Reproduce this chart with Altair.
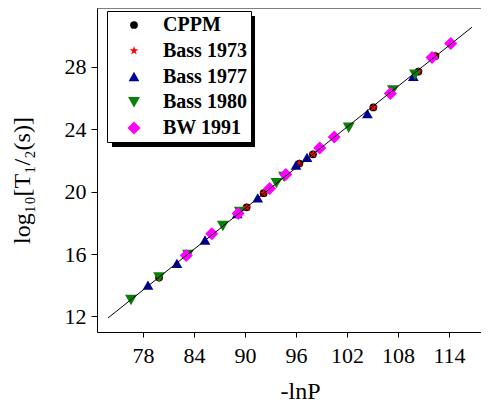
import altair as alt
import pandas as pd

STAR = ("M0,-1L0.225,-0.309L0.951,-0.309L0.363,0.118L0.588,0.809L0,0.382"
        "L-0.588,0.809L-0.363,0.118L-0.951,-0.309L-0.225,-0.309Z")

series = ["CPPM", "Bass 1973", "Bass 1977", "Bass 1980", "BW 1991"]
colors = ["#000000", "#ff0000", "#00009c", "#0a800a", "#ff00ff"]
shapes = ["circle", STAR, "triangle-up", "triangle-down", "diamond"]
sizes = [60, 170, 140, 140, 150]

cppm_x = [79.9, 90.2, 92.2, 96.4, 98.0, 105.1, 110.4, 112.4]
cppm_y = [14.5, 19.0, 19.9, 21.8, 22.4, 25.4, 27.7, 28.7]
b73_x = [79.9, 90.2, 92.2, 96.4, 98.0, 105.1, 110.4, 112.4]
b73_y = [14.5, 19.0, 19.9, 21.8, 22.4, 25.4, 27.7, 28.7]
b77_x = [78.6, 82.0, 85.3, 89.1, 91.5, 96.0, 97.3, 104.4, 109.8]
b77_y = [14.0, 15.4, 16.9, 18.6, 19.6, 21.7, 22.2, 25.0, 27.4]
b80_x = [76.6, 79.9, 83.3, 87.4, 89.4, 93.7, 94.6, 102.2, 107.4, 110.0]
b80_y = [13.05, 14.5, 15.95, 17.8, 18.7, 20.55, 20.95, 24.1, 26.5, 27.5]
bw_x = [83.1, 86.1, 89.2, 92.9, 94.8, 98.8, 100.5, 107.1, 112.0, 114.2]
bw_y = [15.9, 17.3, 18.6, 20.2, 21.1, 22.8, 23.5, 26.3, 28.6, 29.5]

fit_x = [73.9, 116.7]
fit_y = [11.9, 30.55]

x_ticks = [78, 84, 90, 96, 102, 108, 114]
y_ticks = [12, 16, 20, 24, 28]

rows = []
for name, xs, ys in zip(series, [cppm_x, b73_x, b77_x, b80_x, bw_x],
                        [cppm_y, b73_y, b77_y, b80_y, bw_y]):
    for xv, yv in zip(xs, ys):
        rows.append({"series": name, "px": xv, "py": yv, "k": len(rows)})
df = pd.DataFrame(rows)
fit = pd.DataFrame({"px": fit_x, "py": fit_y})

FONT = "Liberation Serif"
W, H = 384, 324

xscale = alt.Scale(domain=[72.6, 117.76], nice=False, zero=False)
yscale = alt.Scale(domain=[11, 31.78], nice=False, zero=False)

xaxis = alt.Axis(values=x_ticks, title="-lnP", grid=False, tickSize=5,
                 labelPadding=25, labelBaseline="alphabetic",
                 titleX=203, titleY=66, titleBaseline="alphabetic",
                 titleAlign="center")
yaxis = alt.Axis(values=y_ticks, title="log₁₀[T₁/₂(s)]", grid=False, tickSize=6,
                 labelPadding=5, titleAngle=270, titleX=-68, titleY=172,
                 titleBaseline="alphabetic", titleAlign="center")

points = alt.Chart(df).mark_point(filled=True, opacity=1, strokeWidth=0).encode(
    x=alt.X("px:Q", scale=xscale, axis=xaxis),
    y=alt.Y("py:Q", scale=yscale, axis=yaxis),
    color=alt.Color("series:N", scale=alt.Scale(domain=series, range=colors),
                    legend=alt.Legend(title=None, orient="none", legendX=10, legendY=3,
                                      fillColor="white", strokeColor="black",
                                      padding=4, symbolOffset=13, labelOffset=19,
                                      rowPadding=5.75, labelFont=FONT, labelFontSize=20,
                                      labelFontWeight="bold", labelColor="black",
                                      symbolStrokeWidth=0)),
    shape=alt.Shape("series:N", scale=alt.Scale(domain=series, range=shapes)),
    size=alt.Size("series:N", scale=alt.Scale(domain=series, range=sizes)),
    order=alt.Order("k:Q"),
)

line = alt.Chart(fit).mark_line(color="black", strokeWidth=1).encode(
    x=alt.X("px:Q", scale=xscale),
    y=alt.Y("py:Q", scale=yscale),
)

one = pd.DataFrame({"a": [0]})
shadow = alt.Chart(one).mark_rect(color="black").encode(
    x=alt.value(15), x2=alt.value(158), y=alt.value(8), y2=alt.value(139)
)
top_border = alt.Chart(one).mark_rule(color="black", strokeWidth=1).encode(
    x=alt.value(0), x2=alt.value(W), y=alt.value(0)
)

chart = alt.layer(shadow, top_border, points, line).properties(
    width=W, height=H,
    autosize=alt.AutoSizeParams(type="none"),
    padding={"left": 89, "top": 0, "right": 0, "bottom": 70},
).configure_view(stroke="transparent").configure_axis(
    labelFont=FONT, labelFontSize=22, labelColor="black",
    titleFont=FONT, titleFontSize=24, titleFontWeight="normal", titleColor="black",
    domainColor="black", tickColor="black", domainWidth=1, tickWidth=1,
)

chart.save("out.html", embed_options={"renderer": "svg", "actions": False})
